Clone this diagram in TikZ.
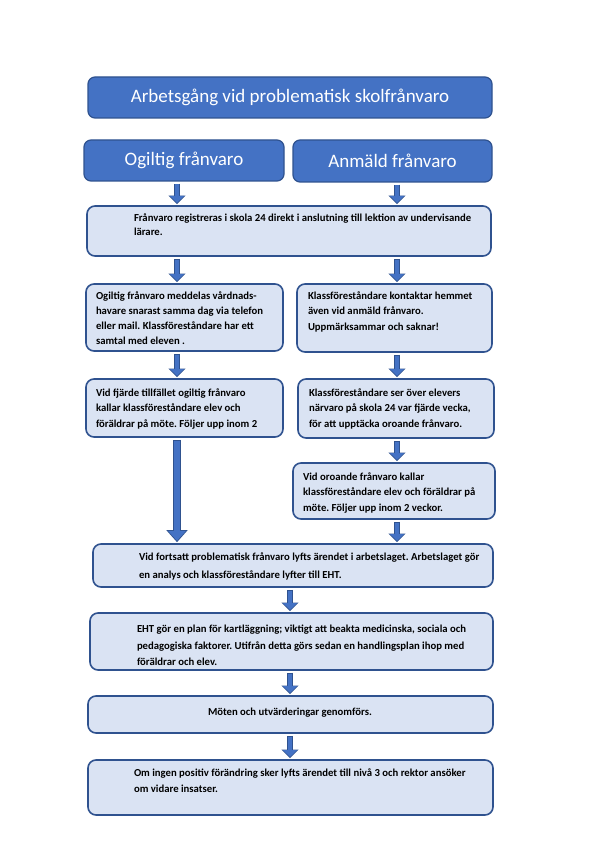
\documentclass[tikz,border=0pt]{standalone}
\usepackage{fontspec}
\setmainfont{Carlito}
\usetikzlibrary{arrows.meta}
\frenchspacing

\definecolor{headblue}{HTML}{4472C4}
\definecolor{lineblue}{HTML}{2F528F}
\definecolor{paleblue}{HTML}{DAE3F3}

% box body: width, height, left pad, first baseline, text
\newcommand{\boxtext}[5]{\parbox[c][#2][t]{#1}{\vspace*{\dimexpr#4-9pt\relax}\leftskip=#3\relax\noindent\rule{0pt}{9pt}#5}}

\tikzset{
  headbox/.style={draw=lineblue, fill=headblue, line width=1.2pt, rounded corners=7pt,
    inner sep=0pt, text=white, font=\fontsize{19}{23}\selectfont},
  stepbox/.style={draw=lineblue, fill=paleblue, line width=1.6pt, rounded corners=8pt,
    inner sep=0pt},
  stepfont/.style={font=\bfseries\fontsize{10.7}{#1}\selectfont},
  flowline/.style={line width=6.4pt, draw=lineblue, shorten <=2pt, shorten >=1pt,
    -{Triangle[width=16.5pt,length=8.5pt]}},
  flowfill/.style={line width=4.6pt, draw=headblue, shorten <=2.9pt, shorten >=2.2pt,
    -{Triangle[width=13.6pt,length=7pt]}},
  bigline/.style={line width=8.4pt, draw=lineblue, shorten <=2pt, shorten >=1pt,
    -{Triangle[width=20.5pt,length=12pt]}},
  bigfill/.style={line width=6.6pt, draw=headblue, shorten <=2.9pt, shorten >=2.4pt,
    -{Triangle[width=17.4pt,length=10pt]}},
}

\begin{document}
\begin{tikzpicture}[x=1pt, y=-1pt]
  \useasboundingbox[fill=white] (0,0) rectangle (595,842);

  % columns of the arrows
  \coordinate (colL) at (177,0);
  \coordinate (colR) at (397,0);
  \coordinate (colM) at (290,0);

  % headings
  \node[headbox, minimum width=404pt, minimum height=41pt] (title) at (290,97.5)
    {Arbetsgång vid problematisk skolfrånvaro};
  \node[headbox, minimum width=200pt, minimum height=41pt] (ogiltig) at (184,160.5)
    {Ogiltig frånvaro};
  \node[headbox, minimum width=199pt, minimum height=42pt] (anmald) at (392.5,161)
    {Anmäld frånvaro};

  % steps
  \node[stepbox, stepfont=13.5] (reg) at (289,231)
    {\boxtext{404pt}{50pt}{47pt}{15.5pt}{Frånvaro registreras i skola 24 direkt i anslutning till lektion av undervisande\\ lärare.}};
  \node[stepbox, stepfont=15.3] (meddelas) at (184.5,317.5)
    {\boxtext{197pt}{67pt}{10pt}{15pt}{Ogiltig frånvaro meddelas vårdnads-\\ havare snarast samma dag via telefon\\ eller mail. Klassföreståndare har ett\\ samtal med eleven .}};
  \node[stepbox, stepfont=15.3] (kontakt) at (394.5,318)
    {\boxtext{195pt}{68pt}{11pt}{15.5pt}{Klassföreståndare kontaktar hemmet\\ även vid anmäld frånvaro.\\ Uppmärksammar och saknar!}};
  \node[stepbox, stepfont=15.3] (fjarde) at (184.5,408)
    {\boxtext{197pt}{58pt}{10pt}{17.5pt}{Vid fjärde tillfället ogiltig frånvaro\\ kallar klassföreståndare elev och\\ föräldrar på möte. Följer upp inom 2}};
  \node[stepbox, stepfont=15.3] (narvaro) at (396,408.5)
    {\boxtext{196pt}{59pt}{11pt}{17.5pt}{Klassföreståndare ser över elevers\\ närvaro på skola 24 var fjärde vecka,\\ för att upptäcka oroande frånvaro.}};
  \node[stepbox, stepfont=15.3] (oroande) at (394,491)
    {\boxtext{202pt}{56pt}{10pt}{17.5pt}{Vid oroande frånvaro kallar\\ klassföreståndare elev och föräldrar på\\ möte. Följer upp inom 2 veckor.}};
  \node[stepbox, stepfont=17.5] (fortsatt) at (293,565.5)
    {\boxtext{400pt}{43pt}{46pt}{16.5pt}{Vid fortsatt problematisk frånvaro lyfts ärendet i arbetslaget. Arbetslaget gör\\ en analys och klassföreståndare lyfter till EHT.}};
  \node[stepbox, stepfont=16.5] (eht) at (291.5,641.5)
    {\boxtext{403pt}{57pt}{47pt}{19.5pt}{EHT gör en plan för kartläggning; viktigt att beakta medicinska, sociala och\\ pedagogiska faktorer. Utifrån detta görs sedan en handlingsplan ihop med\\ föräldrar och elev.}};
  \node[stepbox, stepfont=16] (moten) at (290.5,714.5)
    {\boxtext{405pt}{37pt}{120pt}{19pt}{Möten och utvärderingar genomförs.}};
  \node[stepbox, stepfont=16] (omingen) at (290.5,787.5)
    {\boxtext{405pt}{55pt}{46pt}{16.5pt}{Om ingen positiv förändring sker lyfts ärendet till nivå 3 och rektor ansöker\\ om vidare insatser.}};

  % block arrows
  \foreach \a/\b/\c in {ogiltig/reg/colL, anmald/reg/colR, reg/meddelas/colL, reg/kontakt/colR,
      meddelas/fjarde/colL, kontakt/narvaro/colR, narvaro/oroande/colR, oroande/fortsatt/colR,
      fortsatt/eht/colM, eht/moten/colM, moten/omingen/colM} {
    \draw[flowline] (\a.south -| \c) -- (\b.north -| \c);
    \draw[flowfill] (\a.south -| \c) -- (\b.north -| \c);
  }
  \draw[bigline] (fjarde.south -| colL) -- (fortsatt.north -| colL);
  \draw[bigfill] (fjarde.south -| colL) -- (fortsatt.north -| colL);
\end{tikzpicture}
\end{document}
